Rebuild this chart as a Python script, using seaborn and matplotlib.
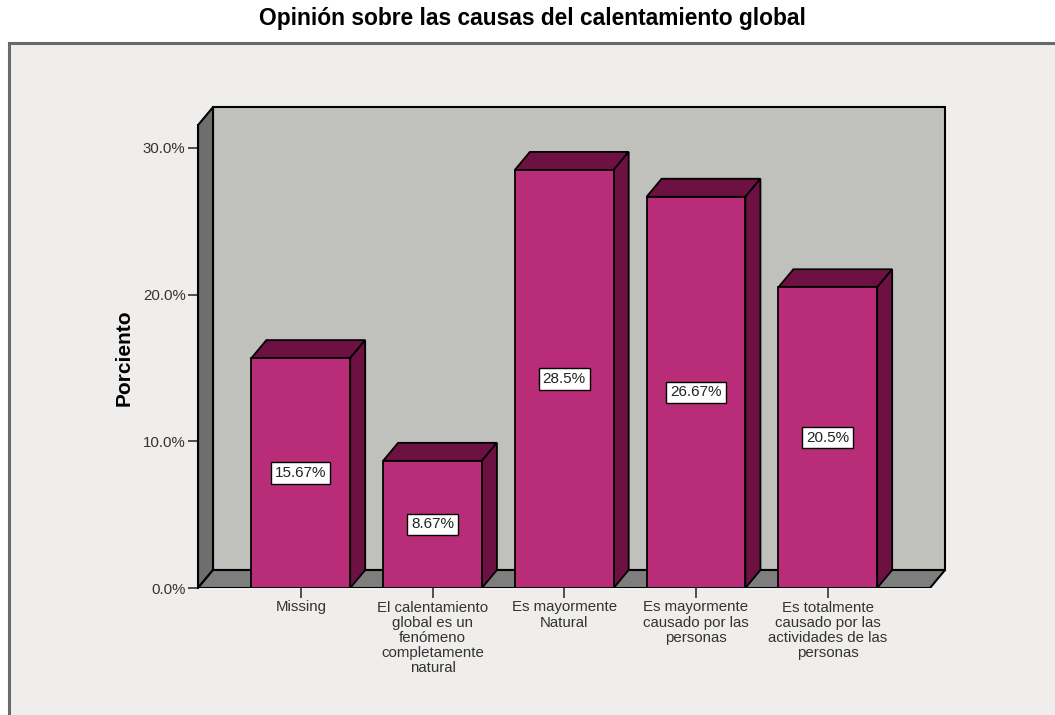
import matplotlib
matplotlib.use("Agg")
import matplotlib.pyplot as plt
import seaborn as sns
import pandas as pd
from matplotlib.patches import Polygon, Rectangle

# Survey answers and their share of respondents (%)
categories = [
    "Missing",
    "El calentamiento\nglobal es un\nfenómeno\ncompletamente\nnatural",
    "Es mayormente\nNatural",
    "Es mayormente\ncausado por las\npersonas",
    "Es totalmente\ncausado por las\nactividades de las\npersonas",
]
percentages = [15.67, 8.67, 28.5, 26.67, 20.5]
y_ticks = [0, 10, 20, 30]

title = "Opinión sobre las causas del calentamiento global"
y_label = "Porciento"

FRONT = "#b92d78"
DARK = "#6c1141"
WALL = "#c0c0bc"
FLOOR = "#7e7e7e"
SIDE = "#6e6e6e"
BG = "#f0eeec"

sns.set_theme(style="white")
plt.rcParams["font.family"] = ["Liberation Sans", "DejaVu Sans"]

W, H = 1055, 715
fig = plt.figure(figsize=(W / 100, H / 100), dpi=100)
fig.patch.set_facecolor("white")

# Chart frame
frame = Rectangle((9 / W, -0.01), 1.02, (H - 43) / H + 0.01,
                  transform=fig.transFigure, facecolor=BG,
                  edgecolor="#6a6a6a", linewidth=2.2, zorder=-5)
fig.patches.append(frame)

# Axes placed by pixel geometry
px0, px1, py0, py1 = 198, 950, 588, 100
ax = fig.add_axes([px0 / W, (H - py0) / H, (px1 - px0) / W, (py0 - py1) / H])
ax.set_facecolor("none")
ax.set_zorder(1)

df = pd.DataFrame({"cat": categories, "pct": percentages})
sns.barplot(data=df, x="cat", y="pct", width=0.75, color=FRONT,
            saturation=1, edgecolor="black", linewidth=1.3, ax=ax, zorder=5)

x_per_px = 1 / 131.75
y_per_px = 1 / 14.67
xl = -0.78
xr = xl + (930 - 198) * x_per_px
ax.set_xlim(xl, xl + (px1 - px0) * x_per_px)
ax.set_ylim(0, (py0 - py1) * y_per_px)

DX = 15 * x_per_px
DY = 18 * y_per_px
wall_top = 31.55

# Back wall, side wall and floor of the 3D box
ax.add_patch(Rectangle((xl + DX, DY), xr - xl, wall_top, facecolor=WALL,
                       edgecolor="black", linewidth=1.5, zorder=1))
ax.add_patch(Polygon([(xl, 0), (xl + DX, DY), (xl + DX, wall_top + DY), (xl, wall_top)],
                     closed=True, facecolor=SIDE, edgecolor="black", linewidth=1.5, zorder=2))
ax.add_patch(Polygon([(xl, 0), (xr, 0), (xr + DX, DY), (xl + DX, DY)],
                     closed=True, facecolor=FLOOR, edgecolor="black", linewidth=1.5, zorder=2))

# Top and side faces of each bar, plus value boxes
for bar, v in zip(ax.patches[:len(percentages)], percentages):
    x0 = bar.get_x()
    w = bar.get_width()
    h = bar.get_height()
    ax.add_patch(Polygon([(x0, h), (x0 + DX, h + DY), (x0 + w + DX, h + DY), (x0 + w, h)],
                         closed=True, facecolor=DARK, edgecolor="black", linewidth=1.3, zorder=4))
    ax.add_patch(Polygon([(x0 + w, 0), (x0 + w + DX, DY), (x0 + w + DX, h + DY), (x0 + w, h)],
                         closed=True, facecolor=DARK, edgecolor="black", linewidth=1.3, zorder=4))
    ax.text(x0 + w / 2, h / 2, f"{v:g}%", ha="center", va="center", fontsize=11,
            color="#222222", zorder=7,
            bbox=dict(boxstyle="square,pad=0.25", facecolor="white",
                      edgecolor="black", linewidth=1))

for s in ["top", "right", "bottom"]:
    ax.spines[s].set_visible(False)
ax.spines["left"].set_bounds(0, wall_top)
ax.spines["left"].set_color("black")
ax.spines["left"].set_linewidth(1.5)
ax.spines["left"].set_zorder(3)

ax.set_yticks(y_ticks)
ax.set_yticklabels([f"{t:.1f}%" for t in y_ticks])
ax.tick_params(axis="y", left=True, length=7, width=1.2, color="#333333",
               labelsize=10.8, labelcolor="#333333", pad=2)
ax.tick_params(axis="x", bottom=True, length=7, width=1.2, color="#333333",
               labelsize=10.8, labelcolor="#333333", pad=2)
for lbl in ax.get_xticklabels():
    lbl.set_linespacing(1.1)
ax.set_xlabel("")
ax.set_ylabel(y_label, fontsize=15, fontweight="bold", color="black")
ax.yaxis.set_label_coords((134 - px0) / (px1 - px0), (588 - 358) / (py0 - py1))

fig.text(532 / W, 1 - 18 / H, title, ha="center", va="center",
         fontsize=16.4, fontweight="bold", color="black")

fig.savefig("out.png", dpi=100, facecolor=fig.get_facecolor())
